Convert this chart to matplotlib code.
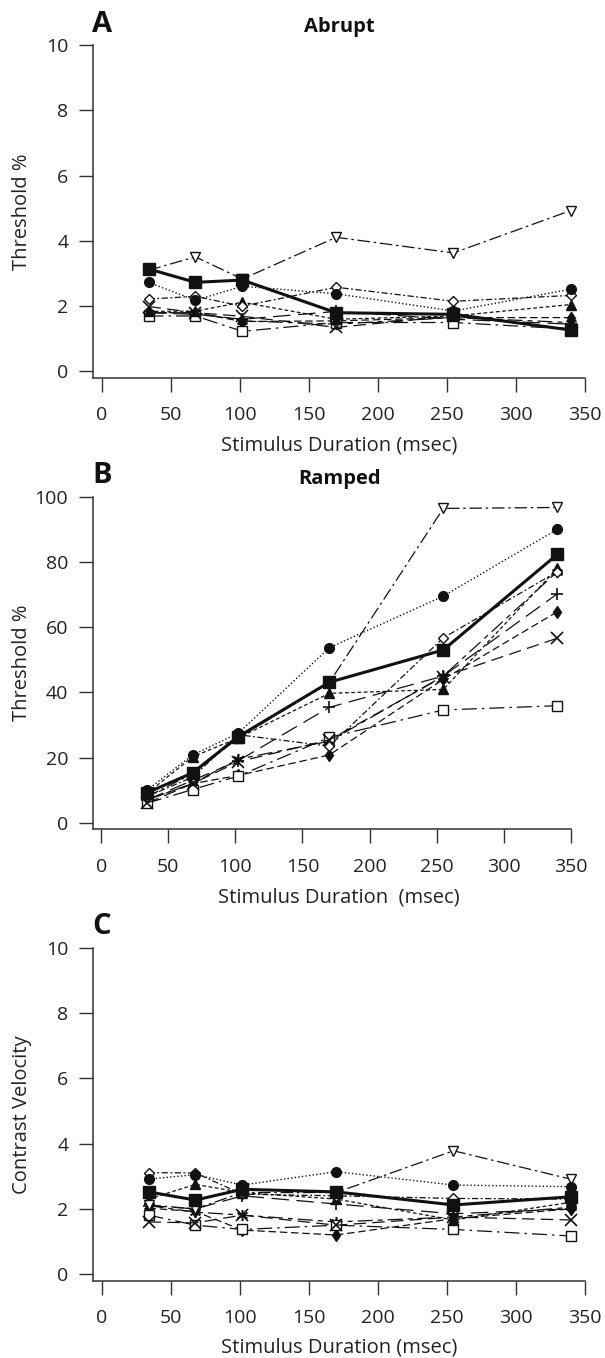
"""Threshold vs stimulus duration for abrupt / ramped onsets, plus contrast velocity."""
import matplotlib; matplotlib.use('Agg')
import matplotlib.pyplot as plt

plt.rcParams['font.family'] = ['Open Sans', 'DejaVu Sans']

durations = [34, 68, 102, 170, 255, 340]

# panel A: abrupt thresholds (%)
abrupt = {
    'sq':        [3.14, 2.73, 2.80, 1.80, 1.75, 1.27],
    'circ':      [2.73, 2.18, 2.61, 2.38, 1.85, 2.52],
    'tri_open':  [3.10, 3.51, 2.83, 4.11, 3.63, 4.93],
    'diam_open': [2.22, 2.30, 2.00, 2.58, 2.15, 2.33],
    'tri_fill':  [1.84, 1.85, 2.12, 1.60, 1.70, 2.05],
    'x':         [1.99, 1.80, 1.69, 1.35, 1.70, 1.30],
    'sq_open':   [1.70, 1.70, 1.23, 1.50, 1.50, 1.30],
    'thin_diam': [1.80, 1.80, 1.53, 1.55, 1.65, 1.65],
    'plus':      [1.80, 1.75, 1.60, 1.84, 1.60, 1.45],
    'star':      [1.80, 1.80, 1.55, 1.45, 1.65, 1.50],
}
# panel B: ramped thresholds (%)
ramped = {
    'sq':        [9.2, 15.3, 26.4, 43.1, 53.0, 82.3],
    'circ':      [10.0, 20.8, 27.4, 53.7, 69.5, 90.0],
    'tri_open':  [8.0, 15.0, 26.0, 43.0, 96.4, 96.7],
    'diam_open': [8.0, 14.0, 27.0, 23.5, 56.7, 77.0],
    'tri_fill':  [9.0, 20.2, 26.0, 39.7, 40.9, 78.0],
    'x':         [6.0, 12.0, 18.7, 25.4, 44.8, 56.6],
    'sq_open':   [6.0, 10.2, 14.3, 26.2, 34.6, 35.9],
    'thin_diam': [7.0, 12.0, 14.5, 20.8, 44.0, 64.7],
    'plus':      [7.0, 13.0, 19.0, 35.4, 45.0, 70.2],
    'star':      [7.0, 12.0, 19.5, 25.0, 45.0, 77.0],
}
# panel C: contrast velocity
velocity = {
    'sq':        [2.52, 2.27, 2.60, 2.52, 2.12, 2.37],
    'circ':      [2.91, 3.05, 2.73, 3.14, 2.73, 2.68],
    'tri_open':  [2.12, 2.00, 2.50, 2.50, 3.78, 2.91],
    'diam_open': [3.11, 3.10, 2.45, 2.40, 2.32, 2.30],
    'tri_fill':  [2.30, 2.75, 2.50, 2.30, 1.66, 2.20],
    'x':         [1.60, 1.57, 1.81, 1.50, 1.75, 1.66],
    'sq_open':   [1.81, 1.50, 1.37, 1.50, 1.37, 1.17],
    'thin_diam': [2.02, 1.92, 1.35, 1.20, 1.70, 2.00],
    'plus':      [2.10, 2.00, 2.40, 2.15, 1.85, 2.00],
    'star':      [2.10, 1.90, 1.81, 1.60, 1.75, 2.05],
}

K = '#111111'
style = {
    'sq':        dict(marker='s', ms=8, mfc=K, ls='-', lw=2.2, zorder=5),
    'circ':      dict(marker='o', ms=7, mfc=K, ls=(0, (1, 1.6)), lw=1.0),
    'tri_open':  dict(marker='v', ms=7, mfc='white', ls=(0, (10, 3, 2, 3)), lw=0.9),
    'diam_open': dict(marker='D', ms=5, mfc='white', ls=(0, (5, 2, 1.5, 2)), lw=0.9),
    'tri_fill':  dict(marker='^', ms=7, mfc=K, ls=(0, (3, 2)), lw=0.9),
    'x':         dict(marker='x', ms=8, mfc=K, ls=(0, (10, 5)), lw=0.9, mew=1.2),
    'sq_open':   dict(marker='s', ms=7, mfc='white', ls=(0, (12, 4, 2, 4)), lw=0.9),
    'thin_diam': dict(marker='d', ms=6, mfc=K, ls=(0, (6, 3)), lw=0.9),
    'plus':      dict(marker='+', ms=9, mfc=K, ls=(0, (14, 6)), lw=0.9, mew=1.2),
    'star':      dict(marker=(6, 2, 0), ms=8, mfc=K, ls=(0, (12, 4, 4, 4)), lw=0.9, mew=1.1),
}
order = ['star', 'plus', 'thin_diam', 'sq_open', 'x', 'tri_fill', 'diam_open', 'tri_open', 'circ', 'sq']

W, H = 605, 1358
fig = plt.figure(figsize=(W / 100, H / 100), dpi=100)

def px_axes(l, t, r, b):
    return fig.add_axes([l / W, 1 - b / H, (r - l) / W, (b - t) / H])

panels = [
    (abrupt,   px_axes(93.3, 45, 584.6, 378),    (-0.2, 10), range(0, 11, 2),   'Threshold %',       'Stimulus Duration (msec)',  'A', 'Abrupt', 446),
    (ramped,   px_axes(93.3, 496.7, 570.7, 829.3), (-2, 100), range(0, 101, 20), 'Threshold %',      'Stimulus Duration  (msec)', 'B', 'Ramped', 897),
    (velocity, px_axes(93.3, 947.7, 584.6, 1280.7), (-0.2, 10), range(0, 11, 2), 'Contrast Velocity', 'Stimulus Duration (msec)',  'C', None, 1348),
]

for data, ax, ylim, yticks, ylab, xlab, letter, title, xlab_y in panels:
    for k in order:
        st = dict(style[k])
        ax.plot(durations, data[k], color=K, mec=K, clip_on=False, **st)
    ax.set_xlim(-6, 350)
    ax.set_ylim(*ylim)
    ax.set_xticks(range(0, 351, 50))
    ax.set_yticks(list(yticks))
    for s in ('top', 'right'):
        ax.spines[s].set_visible(False)
    for s in ('left', 'bottom'):
        ax.spines[s].set_linewidth(1.1)
        ax.spines[s].set_color('#333333')
    ax.tick_params(direction='out', length=10, width=1.0, color='#333333',
                   labelsize=14, labelcolor='#222222')
    ax.tick_params(axis='x', pad=10.5)
    ax.tick_params(axis='y', pad=8)
    bb = ax.get_position()
    fig.text(22.5 / W, (bb.y0 + bb.y1) / 2, ylab, rotation=90, ha='center', va='center',
             fontsize=14.5, color='#222222')
    fig.text(339 / W, 1 - xlab_y / H, xlab, ha='center', va='center', fontsize=14.5, color='#222222')
    fig.text(92 / W, bb.y1 + 21 / H, letter, ha='left', va='center', fontsize=21,
             fontweight='bold', color='#111111')
    if title:
        fig.text((bb.x0 + bb.x1) / 2 + (8 if letter == 'B' else 0) / W, bb.y1 + 18 / H, title,
                 ha='center', va='center', fontsize=14.5, fontweight='bold', color='#111111')

fig.savefig('out.png', dpi=100)
